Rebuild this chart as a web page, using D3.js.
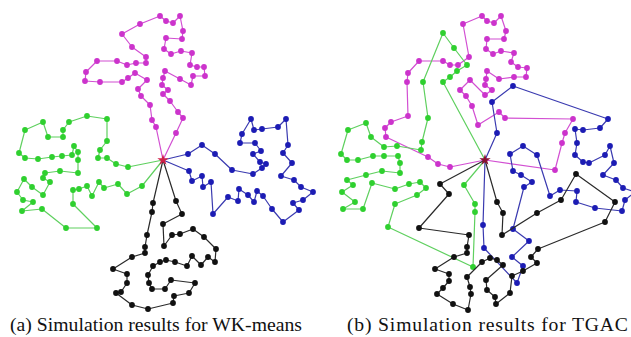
<!DOCTYPE html>
<html>
<head>
<meta charset="utf-8">
<script src="https://cdn.jsdelivr.net/npm/d3@7"></script>
<style>
  body { margin: 0; background: #fff; }
  svg { display: block; }
</style>
</head>
<body>
<svg id="chart" width="631" height="337"></svg>
<script>
// Depot shared by every vehicle tour (field coordinates)
const depot = [163, 160];

// WK-means tours: customer visit order, depot excluded
const wkMagenta = [[156,127],[152,120],[150,105],[141,96],[138,89],[147,80],[135,73],[128,78],[122,82],[100,82],[85,81],[86,72],[97,61],[117,61],[127,65],[136,63],[146,63],[146,57],[132,47],[122,34],[140,24],[160,16],[166,21],[173,23],[180,16],[183,31],[182,39],[166,38],[164,49],[171,54],[181,51],[192,53],[190,65],[197,67],[204,67],[205,76],[193,76],[191,85],[180,79],[165,71],[163,78],[162,85],[168,90],[163,94],[170,101],[178,112],[183,118],[176,133]];
const wkGreen = [[128,167],[116,164],[107,158],[98,158],[100,150],[107,141],[107,119],[87,116],[69,122],[63,130],[63,137],[48,137],[43,122],[25,130],[19,153],[25,158],[38,159],[52,157],[62,156],[72,155],[74,146],[78,152],[78,160],[78,173],[60,171],[45,173],[43,178],[50,182],[43,195],[32,187],[24,179],[17,192],[23,200],[33,202],[22,211],[42,209],[66,228],[97,228],[73,204],[73,190],[79,189],[87,186],[92,196],[99,182],[104,188],[118,184],[127,194],[142,186]];
const wkBlue = [[188,154],[202,145],[215,154],[232,170],[253,174],[262,168],[266,164],[260,162],[253,154],[261,151],[255,143],[240,143],[242,134],[251,119],[254,130],[262,129],[278,127],[286,119],[288,145],[283,153],[292,163],[281,176],[294,180],[301,187],[313,192],[303,200],[293,203],[299,210],[283,222],[272,209],[263,196],[257,191],[254,202],[248,195],[239,189],[238,201],[228,197],[213,214],[211,182],[203,187],[202,176],[192,181],[189,171]];
const wkBlack = [[176,201],[182,214],[163,224],[164,246],[172,235],[180,234],[193,229],[204,237],[216,249],[215,262],[208,257],[201,265],[192,256],[187,266],[175,262],[166,260],[160,262],[153,266],[148,275],[149,283],[152,289],[165,289],[171,280],[195,283],[189,293],[174,296],[173,303],[148,309],[132,305],[116,293],[121,292],[127,283],[127,274],[113,269],[132,257],[145,253],[145,247],[147,235],[152,212],[153,203]];

// TGAC tours over the same customers
const tgMagenta = [[128,167],[116,164],[106,157],[64,137],[63,128],[69,122],[86,116],[85,82],[86,73],[97,61],[121,61],[128,65],[136,65],[147,57],[141,24],[160,16],[165,21],[172,23],[179,16],[184,31],[182,39],[165,39],[164,49],[171,54],[179,51],[192,53],[189,62],[196,67],[205,68],[204,77],[192,77],[177,79],[165,71],[164,79],[163,85],[170,90],[163,95],[148,80],[138,90],[144,96],[150,106],[156,125],[177,112],[183,118],[251,119],[243,133],[240,143],[233,170]];
const tgGreen = [[121,82],[128,77],[135,71],[145,65],[132,48],[121,33],[101,82],[106,118],[100,142],[99,150],[75,146],[62,147],[49,137],[44,123],[26,130],[19,154],[25,160],[36,160],[51,156],[62,156],[76,156],[78,163],[78,173],[60,171],[44,175],[25,180],[31,185],[20,192],[33,202],[21,209],[41,209],[50,183],[73,189],[87,184],[98,182],[104,188],[95,195],[73,204],[66,227],[151,267],[153,212],[153,204],[142,185]];
const tgBlue = [[175,133],[170,102],[191,86],[286,119],[278,128],[261,130],[253,129],[255,143],[253,155],[261,162],[267,163],[283,155],[288,146],[292,163],[281,175],[294,180],[301,188],[313,192],[303,200],[300,211],[273,208],[254,202],[255,191],[238,190],[228,196],[215,155],[201,146],[188,154],[191,171],[199,175],[210,182],[202,187],[191,229],[207,241],[190,257],[201,266],[195,283],[162,248],[161,225]];
const tgBlack = [[118,184],[127,194],[97,228],[147,235],[145,247],[145,253],[132,257],[113,269],[127,274],[127,281],[121,288],[115,294],[131,304],[146,310],[149,294],[148,287],[145,277],[160,262],[168,258],[175,260],[181,265],[164,280],[165,290],[173,297],[174,304],[188,293],[190,276],[201,271],[215,263],[209,257],[216,249],[283,222],[293,202],[254,174],[239,200],[215,213],[180,235],[181,213],[175,202]];

const captions = ["(a) Simulation results for WK-means", "(b) Simulation results for TGAC"];

const vehicleColors = {
  magenta: { line: "#d24fd2", dot: "#cc33cc" },
  green:   { line: "#5fd05f", dot: "#2fd02f" },
  blue:    { line: "#3a3ab0", dot: "#1c1cb4" },
  black:   { line: "#2a2a2a", dot: "#111111" }
};

const panels = [
  { left: 0,   captionX: 10,  captionLen: 292, caption: captions[0], depotColor: "#d0204a",
    tours: [["magenta", wkMagenta], ["green", wkGreen], ["blue", wkBlue], ["black", wkBlack]] },
  { left: 322, captionX: 347, captionLen: 281, caption: captions[1], depotColor: "#8a1030",
    tours: [["magenta", tgMagenta], ["green", tgGreen], ["blue", tgBlue], ["black", tgBlack]] }
];

const svg = d3.select("#chart");
svg.append("rect").attr("width", 631).attr("height", 337).attr("fill", "#fff");

const y = d3.scaleLinear().domain([0, 337]).range([0, 337]);

panels.forEach(p => {
  const x = d3.scaleLinear().domain([0, 320]).range([p.left, p.left + 320]);
  const line = d3.line().x(d => x(d[0])).y(d => y(d[1]));
  const g = svg.append("g");

  p.tours.forEach(([name, stops]) => {
    const c = vehicleColors[name];
    const tg = g.append("g");
    tg.append("path")
      .attr("d", line([depot, ...stops, depot]))
      .attr("fill", "none")
      .attr("stroke", c.line)
      .attr("stroke-width", 1.2)
      .attr("stroke-linejoin", "round");
    tg.selectAll("circle").data(stops).join("circle")
      .attr("cx", d => x(d[0]))
      .attr("cy", d => y(d[1]))
      .attr("r", 2.9)
      .attr("fill", c.dot);
  });

  g.append("path")
    .attr("d", d3.symbol(d3.symbolStar, 40)())
    .attr("transform", `translate(${x(depot[0])},${y(depot[1])})`)
    .attr("fill", p.depotColor);

  svg.append("text")
    .attr("x", p.captionX)
    .attr("y", 331)
    .attr("textLength", p.captionLen)
    .attr("lengthAdjust", "spacing")
    .style("font-family", "'Liberation Serif', 'Times New Roman', serif")
    .style("font-size", "19.7px")
    .attr("fill", "#111")
    .text(p.caption);
});
</script>
</body>
</html>
